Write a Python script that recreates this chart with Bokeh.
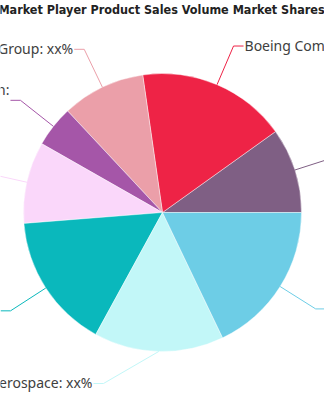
import math
from bokeh.plotting import figure
from bokeh.models import Range1d
from bokeh.core.properties import value
from bokeh.embed import file_html
from bokeh.resources import INLINE

# ---- data (counter-clockwise from 3 o'clock) ----
companies = ["Safran", "Boeing Company", "Airbus Group", "Lockheed Martin",
             "United Technologies", "Raytheon", "GE Aerospace", "Bombardier"]
shares = [9.9, 17.4, 9.7, 4.8, 9.5, 15.8, 15.1, 17.9]
label_texts = ["Safran: xx%", "Boeing Company: xx%", "Airbus Group: xx%",
               "Lockheed Martin:", "United Technologies: xx%", "Raytheon: xx%",
               "GE Aerospace: xx%", "Bombardier: xx%"]
colors = ["#7f5f84", "#ee2346", "#eb9fa9", "#a556a8",
          "#fad7fa", "#0ab8bc", "#c2f7f8", "#6dcde6"]
title = "Market Player Product Sales Volume Market Shares"

# ---- layout ----
W, H = 324, 400
CX, CY = 162, H - 212
R = 139
R2 = 181
HLEN = 10
# per-label layout tweaks (screen pixels)
elbow_override = {6: (103, 383)}
text_dy = {3: -10}

p = figure(width=W, height=H, output_backend="svg", toolbar_location=None,
           x_range=Range1d(0, W), y_range=Range1d(0, H), min_border=0)
p.axis.visible = False
p.grid.visible = False
p.outline_line_color = None
p.background_fill_color = "white"
p.border_fill_color = "white"

total = sum(shares)
starts, ends = [], []
acc = 0.0
for s in shares:
    starts.append(2 * math.pi * acc / total)
    acc += s
    ends.append(2 * math.pi * acc / total)

p.wedge(x=CX, y=CY, radius=R, start_angle=starts, end_angle=ends,
        fill_color=colors, line_color="white", line_width=0.6, line_alpha=0.7,
        direction="anticlock")

for i, txt in enumerate(label_texts):
    mid = (starts[i] + ends[i]) / 2
    ex, ey = CX + R * math.cos(mid), CY + R * math.sin(mid)
    if i in elbow_override:
        bx, by = elbow_override[i][0], H - elbow_override[i][1]
    else:
        bx, by = CX + R2 * math.cos(mid), CY + R2 * math.sin(mid)
    right = math.cos(mid) > 0
    hx = bx + HLEN if right else bx - HLEN
    p.line([ex, bx, hx], [ey, by, by], line_color=colors[i], line_width=1)
    ty = by + 1 - text_dy.get(i, 0)
    p.text(x=[hx + 1 if right else hx - 1], y=[ty], text=[txt],
           text_align="left" if right else "right", text_baseline="middle",
           text_font=value("Noto Sans"), text_font_size="14px",
           text_color="#404040")

p.text(x=[161], y=[H - 9], text=[title], text_align="center",
       text_baseline="middle",
       text_font=value("DejaVu Sans Condensed"),
       text_font_style="bold", text_font_size="12.5px", text_color="#222222")

open("out.html", "w").write(file_html(p, INLINE))
